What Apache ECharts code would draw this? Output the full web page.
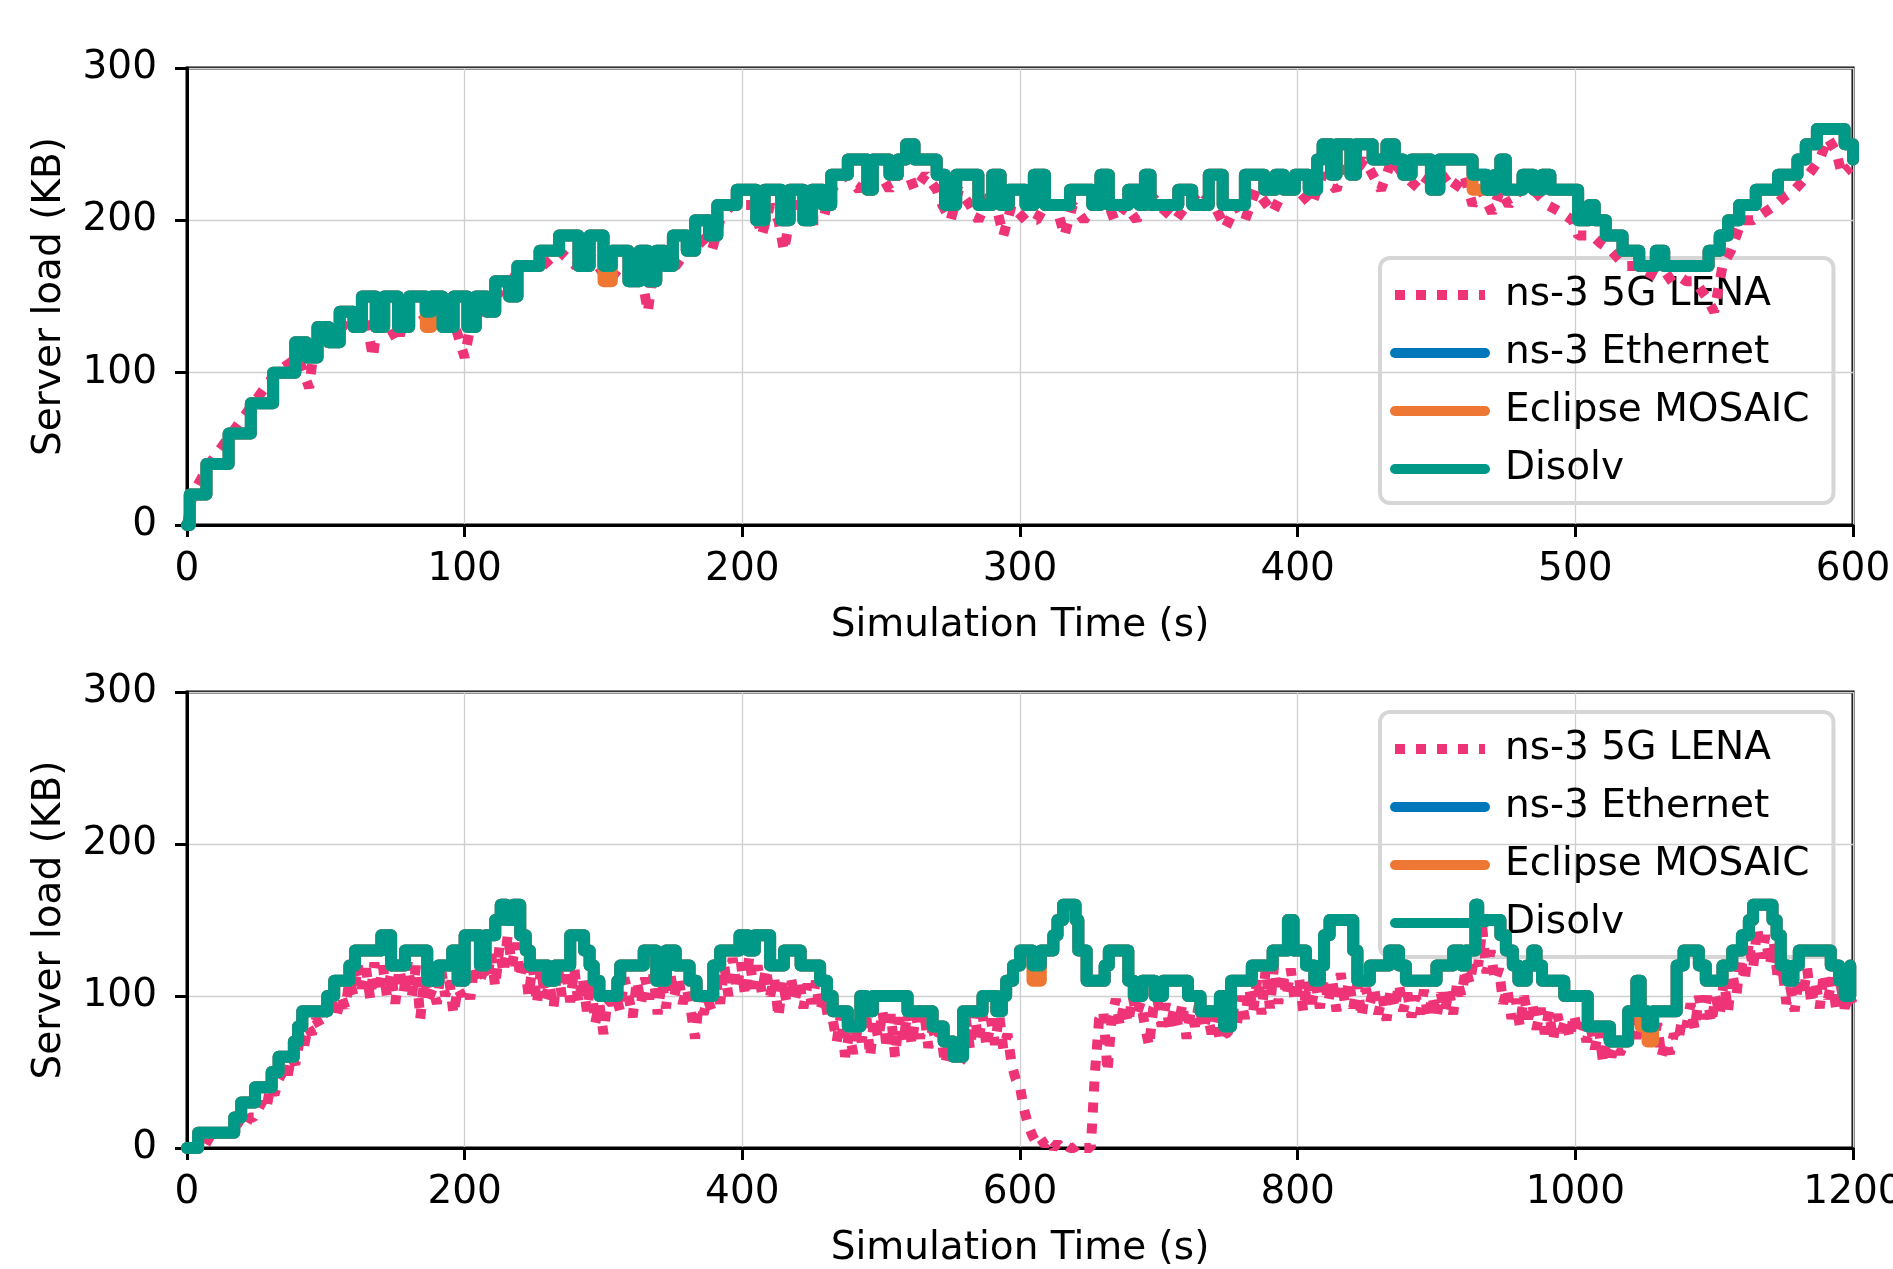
<!DOCTYPE html>
<html>
<head>
<meta charset="utf-8">
<title>Server load</title>
<script src="https://cdn.jsdelivr.net/npm/echarts/dist/echarts.min.js"></script>
<style>
html, body { margin: 0; padding: 0; background: #fff; }
#chart { width: 1893px; height: 1269px; }
</style>
</head>
<body>
<div id="chart"></div>
<script>
// series names (legend order)
const seriesNames = ['ns-3 5G LENA', 'ns-3 Ethernet', 'Eclipse MOSAIC', 'Disolv'];

// ---- top plot (0-600 s) ----
const topTime = [0, 1, 7, 15, 23, 31, 39, 43, 47, 51,
  55, 60, 63, 68, 71, 76, 80, 86, 88, 92,
  96, 101, 104, 108, 111, 116, 119, 127, 134, 141,
  145, 150, 153, 159, 163, 166, 169, 172, 175, 180,
  183, 188, 191, 198, 205, 208, 214, 217, 222, 225,
  229, 232, 238, 245, 247, 253, 256, 259, 262, 270,
  273, 277, 285, 290, 293, 296, 302, 305, 309, 318,
  326, 329, 332, 339, 343, 345, 347, 357, 362, 368,
  373, 381, 388, 392, 395, 399, 404, 407, 409, 412,
  414, 419, 421, 427, 432, 435, 438, 441, 448, 451,
  463, 468, 471, 473, 475, 481, 485, 488, 491, 501,
  505, 507, 511, 517, 523, 529, 532, 548, 552, 555,
  559, 565, 573, 580, 583, 587, 597, 600];
const topDisolv = [0, 20, 40, 60, 80, 100, 120, 110, 130, 120,
  140, 130, 150, 130, 150, 130, 150, 140, 150, 130,
  150, 130, 150, 140, 160, 150, 170, 180, 190, 170,
  190, 170, 180, 160, 180, 160, 180, 170, 190, 180,
  200, 190, 210, 220, 200, 220, 200, 220, 200, 220,
  210, 230, 240, 220, 240, 230, 240, 250, 240, 230,
  210, 230, 210, 230, 210, 220, 210, 230, 210, 220,
  210, 230, 210, 220, 210, 230, 210, 220, 210, 230,
  210, 230, 220, 230, 220, 230, 220, 240, 250, 230,
  250, 230, 250, 240, 250, 240, 230, 240, 220, 240,
  230, 220, 230, 240, 220, 230, 220, 230, 220, 200,
  210, 200, 190, 180, 170, 180, 170, 180, 190, 200,
  210, 220, 230, 240, 250, 260, 250, 240];
const topEthernet = [0, 20, 40, 60, 80, 100, 120, 110, 130, 120,
  140, 130, 150, 130, 150, 130, 150, 140, 150, 130,
  150, 130, 150, 140, 160, 150, 170, 180, 190, 170,
  190, 170, 180, 160, 180, 160, 180, 170, 190, 180,
  200, 190, 210, 220, 200, 220, 200, 220, 200, 220,
  210, 230, 240, 220, 240, 230, 240, 250, 240, 230,
  210, 230, 210, 230, 210, 220, 210, 230, 210, 220,
  210, 230, 210, 220, 210, 230, 210, 220, 210, 230,
  210, 230, 220, 230, 220, 230, 220, 240, 250, 230,
  250, 230, 250, 240, 250, 240, 230, 240, 220, 240,
  230, 220, 230, 240, 220, 230, 220, 230, 220, 200,
  210, 200, 190, 180, 170, 180, 170, 180, 190, 200,
  210, 220, 230, 240, 250, 260, 250, 240];
const topMosaic = [0, 20, 40, 60, 80, 100, 120, 110, 130, 120,
  140, 130, 150, 130, 150, 130, 150, 130, 150, 130,
  150, 130, 150, 140, 160, 150, 170, 180, 190, 170,
  190, 160, 180, 160, 180, 160, 180, 170, 190, 180,
  200, 190, 210, 220, 200, 220, 200, 220, 200, 220,
  210, 230, 240, 220, 240, 230, 240, 250, 240, 230,
  210, 230, 210, 230, 210, 220, 210, 230, 210, 220,
  210, 230, 210, 220, 210, 230, 210, 220, 210, 230,
  210, 230, 220, 230, 220, 230, 220, 240, 250, 230,
  250, 230, 250, 240, 250, 240, 230, 240, 220, 240,
  220, 220, 230, 240, 220, 230, 220, 230, 220, 200,
  210, 200, 190, 180, 170, 180, 170, 180, 190, 200,
  210, 220, 230, 240, 250, 260, 250, 240];
const topLenaTime = [0, 2, 8, 16, 24, 32, 40, 42, 44, 46,
  50, 56, 60, 64, 67, 69, 73, 76, 79, 84,
  88, 91, 95, 100, 103, 107, 111, 117, 120, 128,
  134, 140, 144, 148, 152, 156, 160, 163, 166, 168,
  172, 176, 180, 184, 189, 192, 196, 200, 204, 207,
  210, 213, 215, 218, 222, 226, 229, 232, 237, 242,
  246, 250, 253, 256, 260, 262, 266, 270, 272, 275,
  278, 282, 285, 290, 294, 297, 302, 306, 309, 313,
  316, 319, 323, 327, 330, 334, 338, 342, 346, 350,
  356, 360, 365, 370, 374, 378, 381, 385, 391, 395,
  400, 405, 409, 414, 417, 420, 424, 430, 434, 438,
  444, 448, 452, 456, 460, 463, 466, 470, 473, 476,
  480, 485, 490, 495, 499, 501, 506, 509, 513, 518,
  522, 527, 532, 536, 540, 543, 547, 550, 553, 556,
  560, 564, 568, 572, 575, 579, 584, 588, 591, 594,
  596, 599];
const topLena = [0, 20, 40, 60, 80, 100, 110, 100, 90, 120,
  120, 130, 140, 140, 110, 140, 130, 120, 140, 140,
  130, 140, 140, 110, 140, 140, 150, 160, 170, 170,
  180, 170, 180, 170, 160, 170, 170, 170, 140, 170,
  170, 170, 180, 190, 180, 200, 210, 210, 210, 190,
  210, 200, 180, 210, 210, 200, 200, 220, 230, 220,
  230, 230, 220, 230, 230, 220, 230, 220, 210, 200,
  220, 210, 200, 220, 190, 210, 200, 200, 210, 210,
  190, 210, 200, 210, 220, 200, 210, 200, 220, 210,
  200, 210, 220, 210, 195, 210, 200, 220, 205, 220,
  220, 210, 230, 220, 240, 230, 240, 220, 240, 230,
  220, 230, 230, 220, 230, 210, 220, 205, 220, 210,
  220, 220, 210, 205, 200, 190, 190, 185, 180, 170,
  170, 165, 160, 165, 160, 160, 150, 140, 170, 180,
  200, 200, 205, 210, 215, 220, 230, 240, 254, 245,
  230, 235];

// ---- bottom plot (0-1200 s) ----
const bottomTime = [0, 8, 34, 39, 49, 61, 66, 77, 80, 83,
  101, 106, 117, 121, 140, 147, 157, 173, 181, 191,
  195, 200, 211, 215, 222, 226, 230, 235, 240, 244,
  247, 260, 265, 276, 286, 290, 293, 297, 310, 312,
  329, 338, 345, 352, 362, 367, 379, 384, 398, 404,
  409, 420, 430, 442, 456, 461, 465, 476, 485, 489,
  494, 519, 537, 545, 552, 559, 573, 583, 587, 590,
  595, 600, 609, 615, 624, 627, 631, 640, 642, 648,
  661, 664, 678, 682, 688, 697, 703, 721, 730, 744,
  747, 752, 767, 782, 793, 797, 806, 812, 816, 819,
  823, 840, 843, 852, 866, 873, 878, 900, 912, 918,
  921, 928, 930, 946, 950, 955, 959, 965, 969, 972,
  976, 992, 1009, 1025, 1038, 1044, 1047, 1052, 1056, 1073,
  1078, 1089, 1094, 1106, 1113, 1120, 1125, 1128, 1142, 1145,
  1148, 1153, 1157, 1161, 1184, 1190, 1194, 1198];
const bottomDisolv = [0, 10, 20, 30, 40, 50, 60, 70, 80, 90,
  100, 110, 120, 130, 140, 120, 130, 110, 120, 130,
  110, 140, 120, 140, 150, 160, 150, 160, 140, 130,
  120, 110, 120, 140, 130, 120, 110, 100, 110, 120,
  130, 110, 130, 120, 110, 100, 120, 130, 140, 130,
  140, 120, 130, 120, 110, 100, 90, 80, 100, 90,
  100, 90, 80, 70, 60, 90, 100, 90, 100, 110,
  120, 130, 120, 130, 140, 150, 160, 150, 130, 110,
  120, 130, 110, 100, 110, 100, 110, 100, 90, 100,
  80, 110, 120, 130, 150, 130, 120, 110, 120, 140,
  150, 130, 110, 120, 130, 120, 110, 120, 130, 120,
  130, 160, 150, 140, 130, 120, 110, 120, 130, 120,
  110, 100, 80, 70, 90, 110, 90, 80, 90, 120,
  130, 120, 110, 120, 130, 140, 150, 160, 150, 140,
  120, 110, 120, 130, 120, 110, 100, 120];
const bottomEthernet = [0, 10, 20, 30, 40, 50, 60, 70, 80, 90,
  100, 110, 120, 130, 140, 120, 130, 110, 120, 130,
  110, 140, 120, 140, 150, 160, 150, 160, 140, 130,
  120, 110, 120, 140, 130, 120, 110, 100, 110, 120,
  130, 110, 130, 120, 110, 100, 120, 130, 140, 130,
  140, 120, 130, 120, 110, 100, 90, 80, 100, 90,
  100, 90, 80, 70, 60, 90, 100, 90, 100, 110,
  120, 130, 120, 130, 140, 150, 160, 150, 130, 110,
  120, 130, 110, 100, 110, 100, 110, 100, 90, 100,
  80, 110, 120, 130, 150, 130, 120, 110, 120, 140,
  150, 130, 110, 120, 130, 120, 110, 120, 130, 120,
  130, 160, 150, 140, 130, 120, 110, 120, 130, 120,
  110, 100, 80, 70, 90, 110, 90, 80, 90, 120,
  130, 120, 110, 120, 130, 140, 150, 160, 150, 140,
  120, 110, 120, 130, 120, 110, 100, 120];
const bottomMosaic = [0, 10, 20, 30, 40, 50, 60, 70, 80, 90,
  100, 110, 120, 130, 140, 120, 130, 110, 120, 130,
  110, 140, 120, 140, 150, 160, 150, 160, 140, 130,
  120, 110, 120, 140, 130, 120, 110, 100, 110, 120,
  130, 110, 130, 120, 110, 100, 120, 130, 140, 130,
  140, 120, 130, 120, 110, 100, 90, 80, 100, 90,
  100, 90, 80, 70, 60, 90, 100, 90, 100, 110,
  120, 130, 110, 130, 140, 150, 160, 150, 130, 110,
  120, 130, 110, 100, 110, 100, 110, 100, 90, 100,
  80, 110, 120, 130, 150, 130, 120, 110, 120, 140,
  150, 130, 110, 120, 130, 120, 110, 120, 130, 120,
  130, 160, 150, 140, 130, 120, 110, 120, 130, 120,
  110, 100, 80, 70, 90, 110, 80, 70, 90, 120,
  130, 120, 110, 120, 130, 140, 150, 160, 150, 140,
  120, 110, 120, 130, 120, 110, 100, 120];
const bottomLenaTime = [
  0, 3, 6, 9, 12, 15, 18, 21, 24, 27, 30, 33, 36, 39, 42, 45, 48, 51, 54, 57,
  60, 63, 66, 69, 72, 75, 78, 81, 84, 87, 90, 93, 96, 99, 102, 105, 108, 111, 114, 117,
  120, 123, 126, 129, 132, 135, 138, 141, 144, 147, 150, 153, 156, 159, 162, 165, 168, 171, 174, 177,
  180, 183, 186, 189, 192, 195, 198, 201, 204, 207, 210, 213, 216, 219, 222, 225, 228, 231, 234, 237,
  240, 243, 246, 249, 252, 255, 258, 261, 264, 267, 270, 273, 276, 279, 282, 285, 288, 291, 294, 297,
  300, 303, 306, 309, 312, 315, 318, 321, 324, 327, 330, 333, 336, 339, 342, 345, 348, 351, 354, 357,
  360, 363, 366, 369, 372, 375, 378, 381, 384, 387, 390, 393, 396, 399, 402, 405, 408, 411, 414, 417,
  420, 423, 426, 429, 432, 435, 438, 441, 444, 447, 450, 453, 456, 459, 462, 465, 468, 471, 474, 477,
  480, 483, 486, 489, 492, 495, 498, 501, 504, 507, 510, 513, 516, 519, 522, 525, 528, 531, 534, 537,
  540, 543, 546, 549, 552, 555, 558, 561, 564, 567, 570, 573, 576, 579, 582, 585, 588, 591, 594, 597,
  600, 603, 606, 609, 612, 615, 618, 621, 624, 627, 630, 633, 636, 639, 642, 645, 648, 651, 654, 657,
  660, 663, 666, 669, 672, 675, 678, 681, 684, 687, 690, 693, 696, 699, 702, 705, 708, 711, 714, 717,
  720, 723, 726, 729, 732, 735, 738, 741, 744, 747, 750, 753, 756, 759, 762, 765, 768, 771, 774, 777,
  780, 783, 786, 789, 792, 795, 798, 801, 804, 807, 810, 813, 816, 819, 822, 825, 828, 831, 834, 837,
  840, 843, 846, 849, 852, 855, 858, 861, 864, 867, 870, 873, 876, 879, 882, 885, 888, 891, 894, 897,
  900, 903, 906, 909, 912, 915, 918, 921, 924, 927, 930, 933, 936, 939, 942, 945, 948, 951, 954, 957,
  960, 963, 966, 969, 972, 975, 978, 981, 984, 987, 990, 993, 996, 999, 1002, 1005, 1008, 1011, 1014, 1017,
  1020, 1023, 1026, 1029, 1032, 1035, 1038, 1041, 1044, 1047, 1050, 1053, 1056, 1059, 1062, 1065, 1068, 1071, 1074, 1077,
  1080, 1083, 1086, 1089, 1092, 1095, 1098, 1101, 1104, 1107, 1110, 1113, 1116, 1119, 1122, 1125, 1128, 1131, 1134, 1137,
  1140, 1143, 1146, 1149, 1152, 1155, 1158, 1161, 1164, 1167, 1170, 1173, 1176, 1179, 1182, 1185, 1188, 1191, 1194, 1197,
  1200];
const bottomLena = [
  0, 0, 0, 0, 0, 5, 10, 10, 10, 10, 10, 10, 15, 20, 15, 20, 20, 25, 30, 25,
  40, 35, 45, 50, 45, 60, 55, 70, 65, 80, 75, 85, 80, 90, 85, 95, 88, 100, 92, 110,
  100, 120, 105, 118, 98, 122, 102, 120, 100, 115, 95, 118, 102, 122, 100, 120, 85, 112, 98, 105,
  95, 118, 100, 110, 88, 105, 100, 112, 98, 120, 108, 115, 110, 128, 106, 132, 115, 140, 120, 135,
  112, 125, 100, 120, 95, 118, 98, 108, 92, 120, 100, 118, 96, 118, 95, 112, 90, 110, 82, 95,
  75, 98, 95, 100, 90, 112, 100, 86, 110, 95, 112, 98, 114, 88, 110, 92, 115, 100, 112, 95,
  105, 90, 72, 100, 88, 98, 90, 110, 95, 120, 100, 125, 104, 122, 100, 126, 105, 120, 102, 118,
  100, 112, 86, 110, 95, 112, 98, 110, 92, 108, 95, 110, 90, 100, 85, 85, 70, 88, 60, 75,
  62, 78, 70, 90, 60, 85, 72, 90, 65, 88, 60, 86, 70, 90, 68, 88, 72, 90, 66, 78,
  70, 76, 55, 68, 60, 55, 58, 85, 65, 90, 70, 88, 66, 85, 68, 88, 65, 75, 55, 45,
  40, 25, 15, 8, 3, 6, 2, 5, 0, 3, 0, 2, 0, 0, 3, 0, 0, 0, 50, 85,
  90, 50, 85, 98, 80, 95, 82, 100, 88, 96, 80, 67, 92, 98, 80, 95, 78, 92, 80, 95,
  72, 90, 80, 95, 78, 88, 75, 88, 70, 75, 76, 95, 80, 100, 85, 105, 90, 112, 88, 118,
  92, 120, 95, 115, 100, 118, 96, 112, 90, 110, 95, 108, 92, 112, 96, 110, 90, 115, 95, 110,
  92, 108, 86, 105, 95, 106, 88, 100, 84, 105, 92, 108, 90, 102, 86, 100, 88, 104, 85, 100,
  86, 102, 90, 104, 88, 110, 100, 118, 108, 125, 120, 145, 115, 130, 110, 118, 95, 105, 85, 98,
  80, 100, 85, 95, 78, 92, 75, 90, 71, 88, 76, 85, 72, 88, 75, 82, 70, 80, 65, 78,
  56, 75, 60, 68, 62, 68, 68, 85, 72, 85, 75, 75, 70, 82, 60, 70, 62, 75, 70, 85,
  80, 95, 78, 100, 85, 100, 82, 100, 88, 110, 90, 115, 100, 125, 110, 135, 118, 145, 125, 140,
  120, 135, 110, 120, 95, 105, 90, 112, 100, 118, 95, 110, 92, 115, 98, 112, 90, 108, 92, 100,
  95];

const colors = ['#EE3377', '#0077BB', '#EE7733', '#009988'];
const FONT = 'DejaVu Sans';
const FS = 39;

function pairs(xs, ys) {
  return xs.map((x, i) => [x, ys[i]]);
}

function lenaSeries(idx, xs, ys) {
  return {
    name: seriesNames[0], type: 'line', xAxisIndex: idx, yAxisIndex: idx,
    data: pairs(xs, ys), symbol: 'none', showSymbol: false,
    itemStyle: { color: colors[0] },
    lineStyle: { color: colors[0], width: 10, type: [10, 11], cap: 'butt' },
    animation: false
  };
}

function solidSeries(idx, k, xs, ys) {
  return {
    name: seriesNames[k], type: 'line', xAxisIndex: idx, yAxisIndex: idx,
    data: pairs(xs, ys), symbol: 'none', showSymbol: false, step: 'end',
    itemStyle: { color: colors[k] },
    lineStyle: { color: colors[k], width: 12, join: 'round', cap: 'round' },
    animation: false
  };
}

function xAxisOf(idx, max, step) {
  return {
    type: 'value', gridIndex: idx, min: 0, max: max, interval: step,
    name: 'Simulation Time (s)', nameLocation: 'middle', nameGap: 81,
    nameTextStyle: { fontFamily: FONT, fontSize: FS, color: '#000' },
    axisLine: { show: true, onZero: false, lineStyle: { color: '#000', width: 3 } },
    axisTick: { show: true, inside: false, length: 12, lineStyle: { color: '#000', width: 3 } },
    axisLabel: {
      fontFamily: FONT, fontSize: FS, color: '#000', margin: 25, showMaxLabel: true,
      formatter: (v) => String(v)
    },
    splitLine: { show: true, lineStyle: { color: '#cfcfcf', width: 1.3 } }
  };
}

function yAxisOf(idx) {
  return {
    type: 'value', gridIndex: idx, min: 0, max: 300, interval: 100,
    name: 'Server load (KB)', nameLocation: 'middle', nameGap: 118,
    nameTextStyle: { fontFamily: FONT, fontSize: FS, color: '#000' },
    axisLine: { show: true, lineStyle: { color: '#000', width: 3 } },
    axisTick: { show: true, inside: false, length: 12, lineStyle: { color: '#000', width: 3 } },
    axisLabel: { fontFamily: FONT, fontSize: FS, color: '#000', margin: 30 },
    splitLine: { show: true, lineStyle: { color: '#cfcfcf', width: 1.3 } }
  };
}

function legendAt(top) {
  return {
    show: true, orient: 'vertical', left: 1380, top: top, z: 1,
    data: seriesNames,
    itemWidth: 90, itemHeight: 20, itemGap: 0,
    padding: [8, 24, 5, 10],
    backgroundColor: 'transparent',
    borderColor: '#d6d6d6', borderWidth: 4, borderRadius: 10,
    selectedMode: false,
    itemStyle: { opacity: 0 },
    lineStyle: { width: 10 },
    textStyle: { fontFamily: FONT, fontSize: FS, color: '#000', lineHeight: 58, padding: [0, 0, 0, 15] }
  };
}

const chart = echarts.init(document.getElementById('chart'), null, { renderer: 'canvas' });
chart.setOption({
  animation: false,
  backgroundColor: '#fff',
  grid: [
    { left: 187, top: 68, width: 1666, height: 457, show: true, borderColor: '#000', borderWidth: 3, outerBoundsMode: 'none', containLabel: false },
    { left: 187, top: 692, width: 1666, height: 456, show: true, borderColor: '#000', borderWidth: 3, outerBoundsMode: 'none', containLabel: false }
  ],
  xAxis: [xAxisOf(0, 600, 100), xAxisOf(1, 1200, 200)],
  yAxis: [yAxisOf(0), yAxisOf(1)],
  legend: [legendAt(258), legendAt(712)],
  series: [
    lenaSeries(0, topLenaTime, topLena),
    solidSeries(0, 1, topTime, topEthernet),
    solidSeries(0, 2, topTime, topMosaic),
    solidSeries(0, 3, topTime, topDisolv),
    lenaSeries(1, bottomLenaTime, bottomLena),
    solidSeries(1, 1, bottomTime, bottomEthernet),
    solidSeries(1, 2, bottomTime, bottomMosaic),
    solidSeries(1, 3, bottomTime, bottomDisolv)
  ]
});
</script>
</body>
</html>
